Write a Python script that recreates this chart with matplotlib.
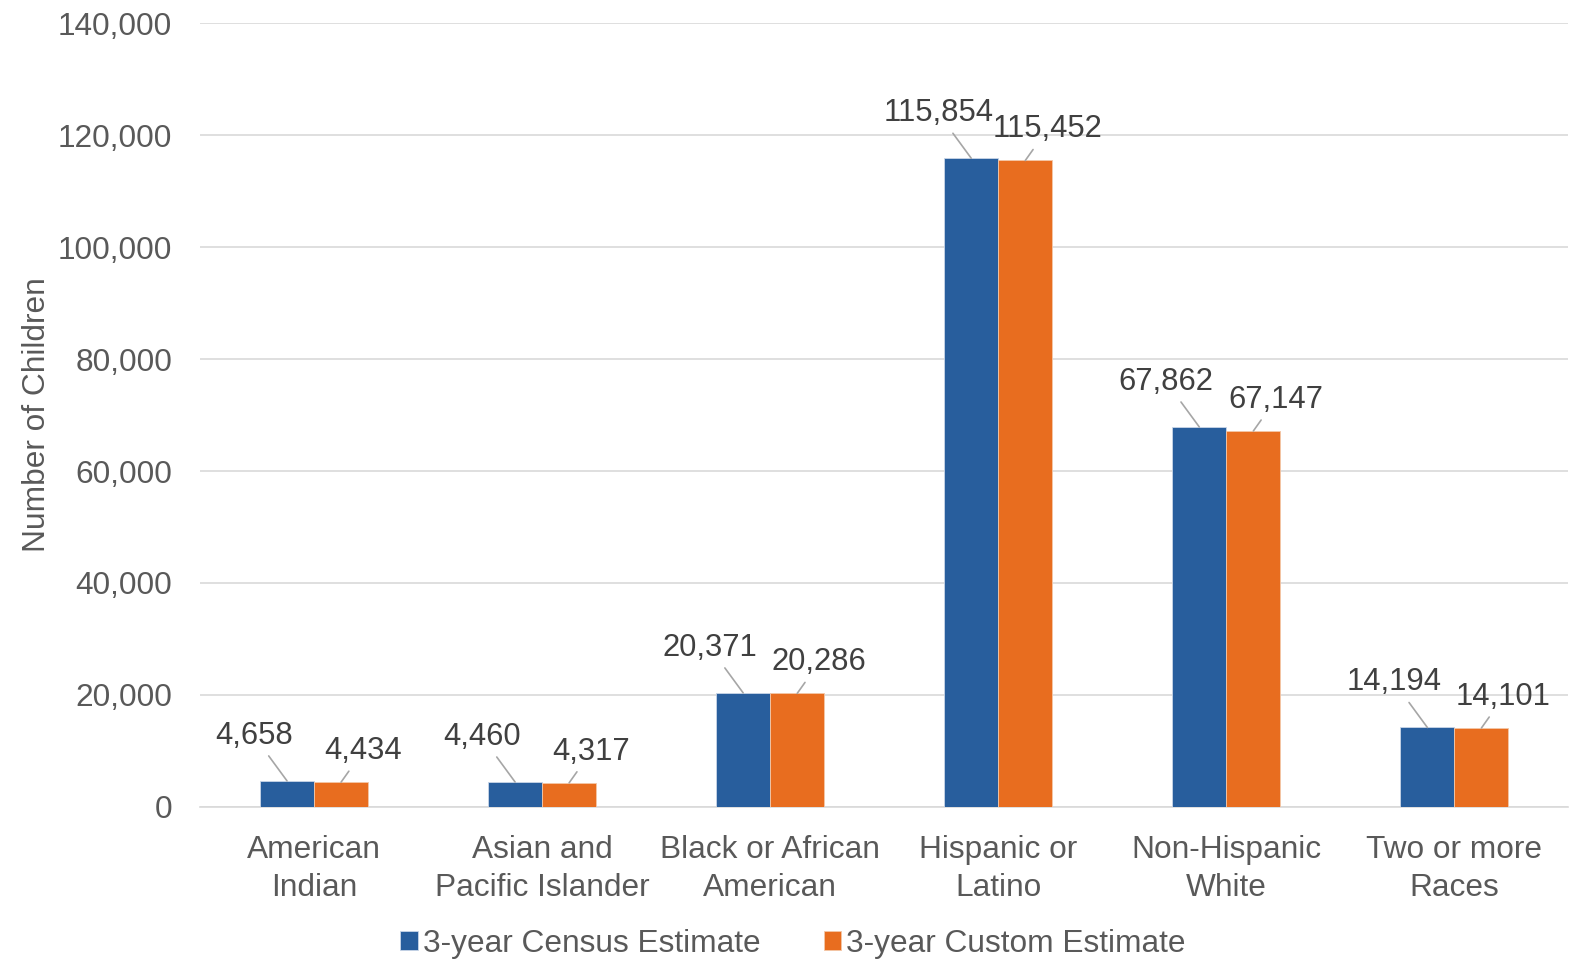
import numpy as np
import matplotlib.pyplot as plt

plt.rcParams['font.family'] = ['Liberation Sans', 'DejaVu Sans']

categories = ["American\nIndian", "Asian and\nPacific Islander", "Black or African\nAmerican",
              "Hispanic or\nLatino", "Non-Hispanic\nWhite", "Two or more\nRaces"]
census = [4658, 4460, 20371, 115854, 67862, 14194]
custom = [4434, 4317, 20286, 115452, 67147, 14101]
series_names = ["3-year Census Estimate", "3-year Custom Estimate"]

blue = "#285E9D"
orange = "#E86D1F"

fig = plt.figure(figsize=(15.7, 9.6), dpi=100)
ax = fig.add_axes([0.1274, 0.1594, 0.8716, 0.8166])

x = np.arange(len(categories))
w = 0.237
b1 = ax.bar(x - w/2, census, w, color=blue, edgecolor="#c9d6e8", linewidth=0.6, label=series_names[0], zorder=3)
b2 = ax.bar(x + w/2, custom, w, color=orange, edgecolor="#f3c7a8", linewidth=0.6, label=series_names[1], zorder=3)

def label(xs, vals, off):
    for xi, v in zip(xs, vals):
        ax.annotate(f"{v:,}", xy=(xi, v), xytext=off, textcoords="offset pixels",
                    ha="center", va="center", fontsize=22.3, color="#404040",
                    arrowprops=dict(arrowstyle="-", color="#a6a6a6", lw=1.2,
                                    shrinkA=2, shrinkB=0))

label(x - w/2, census, (-33, 45))
label(x + w/2, custom, (22, 31))

ax.set_xlim(-0.5, 5.5)
ax.set_ylim(0, 140000)
ax.set_yticks(np.arange(0, 140001, 20000))
ax.set_yticklabels([f"{v:,}" for v in range(0, 140001, 20000)])
ax.set_xticks(x)
ax.set_xticklabels(categories, linespacing=1.36)
ax.tick_params(axis="both", length=0, labelsize=22.8, labelcolor="#595959")
ax.tick_params(axis="x", pad=20)
ax.tick_params(axis="y", pad=20)
ax.grid(axis="y", color="#d9d9d9", lw=1.2, zorder=0)
for s in ["top", "right", "left"]:
    ax.spines[s].set_visible(False)
ax.spines["bottom"].set_color("#d9d9d9")
ax.spines["bottom"].set_linewidth(1.2)
ax.set_ylabel("Number of Children", fontsize=22.8, color="#595959", labelpad=4)

fig.legend(handles=[b1, b2], labels=series_names, loc="center", bbox_to_anchor=(0.505, 0.017),
           ncol=2, frameon=False, fontsize=22.8, labelcolor="#595959",
           handlelength=0.55, handleheight=0.55, handletextpad=0.15, columnspacing=2.0)

fig.savefig("out.png", dpi=100)
